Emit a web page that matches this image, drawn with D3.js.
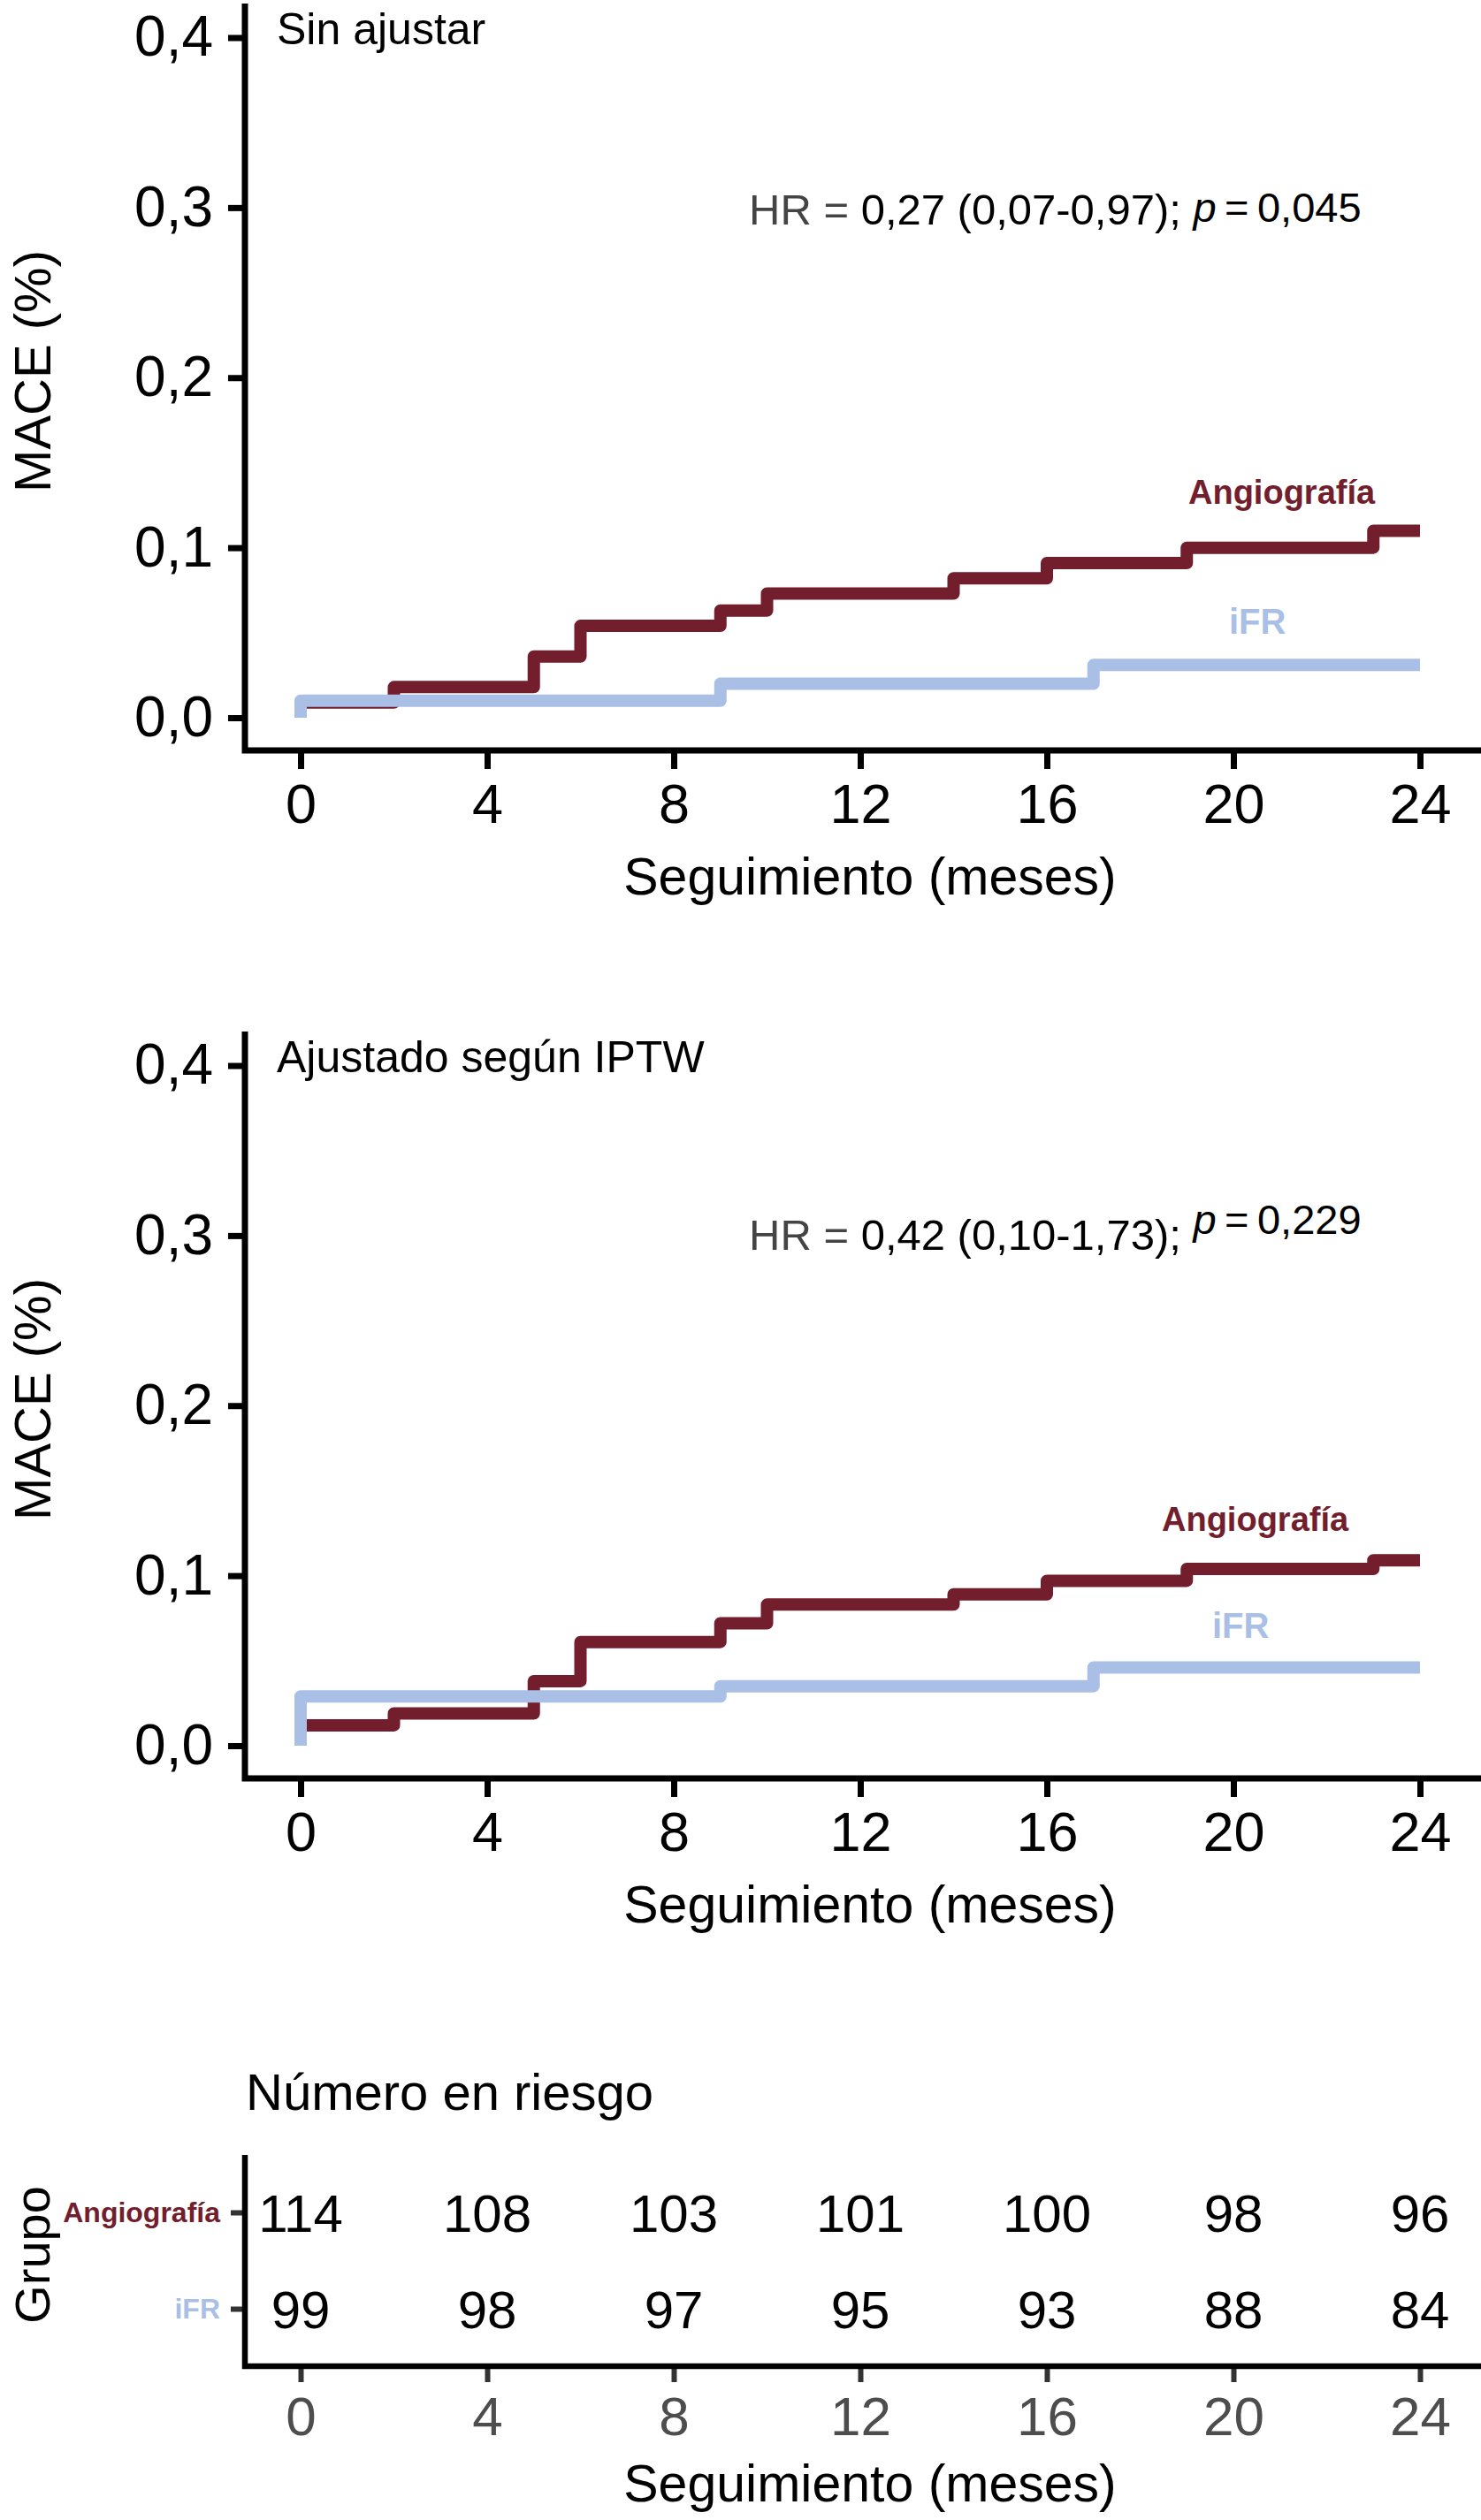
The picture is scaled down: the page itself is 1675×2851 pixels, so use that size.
<!DOCTYPE html>
<html>
<head>
<meta charset="utf-8">
<script src="https://cdn.jsdelivr.net/npm/d3@7"></script>
<style>
    body { margin: 0; background: #fff; }
    text { font-family: "Liberation Sans", Arial, Helvetica, sans-serif; }
</style>
</head>
<body>
<div id="chart"></div>
<script>
// --- data ---
const monthTicks = [0, 4, 8, 12, 16, 20, 24];
const maceTicks = [0, 0.1, 0.2, 0.3, 0.4];
const groups = ['Angiografía', 'iFR'];

// Sin ajustar (cumulative MACE, step times in months)
const rawAngioTimes = [0, 0, 2, 5, 6, 9, 10, 14, 16, 19, 23, 24];
const rawAngioMace = [0, 0.009, 0.018, 0.036, 0.054, 0.063, 0.073, 0.082, 0.091, 0.100, 0.110, 0.110];
const rawIfrTimes = [0, 0, 9, 17, 24];
const rawIfrMace = [0, 0.010, 0.020, 0.031, 0.031];

// Ajustado según IPTW
const iptwAngioTimes = [0, 0, 2, 5, 6, 9, 10, 14, 16, 19, 23, 24];
const iptwAngioMace = [0, 0.012, 0.019, 0.038, 0.061, 0.072, 0.083, 0.089, 0.097, 0.104, 0.109, 0.109];
const iptwIfrTimes = [0, 0, 9, 17, 24];
const iptwIfrMace = [0, 0.029, 0.035, 0.046, 0.046];

const panelTitles = ['Sin ajustar', 'Ajustado según IPTW'];
const hrTexts = ['0,27 (0,07-0,97);', '0,42 (0,10-1,73);'];
const pTexts = ['0,045', '0,229'];

// Número en riesgo
const atRiskAngio = [114, 108, 103, 101, 100, 98, 96];
const atRiskIfr = [99, 98, 97, 95, 93, 88, 84];

// --- drawing ---
const W = 1675, H = 2851;
const red = '#721e2d';
const blue = '#a9bfe6';
const axisX = 277;

const fmt = d => d3.format('.1f')(d).replace('.', ',');

const svg = d3.select('#chart').append('svg')
    .attr('width', W)
    .attr('height', H);

const x = d3.scaleLinear().domain([0, 24]).range([340, 1606]);

function styleAxis(axisG, opts) {
    axisG.select('.domain').remove();
    axisG.selectAll('.tick line')
        .attr('stroke', opts.tickColor)
        .attr('stroke-width', opts.tickWidth);
    axisG.selectAll('.tick text')
        .attr('fill', opts.textColor)
        .style('font-size', opts.fontSize + 'px');
}

function drawPanel(cfg) {
    const g = svg.append('g').attr('transform', 'translate(0,' + cfg.top + ')');
    const y = d3.scaleLinear().domain([0, 0.4]).range([812, 42.5]);
    const xAxisY = 849;

    // y axis
    const yAxisG = g.append('g')
        .attr('transform', 'translate(' + axisX + ',0)')
        .call(d3.axisLeft(y).tickValues(maceTicks).tickFormat(fmt).tickSize(19).tickPadding(17));
    styleAxis(yAxisG, {tickColor: '#000', tickWidth: 7, textColor: '#000', fontSize: 64});

    // x axis
    const xAxisG = g.append('g')
        .attr('transform', 'translate(0,' + xAxisY + ')')
        .call(d3.axisBottom(x).tickValues(monthTicks).tickSize(21).tickPadding(16));
    styleAxis(xAxisG, {tickColor: '#000', tickWidth: 7, textColor: '#000', fontSize: 63});

    g.append('path')
        .attr('d', 'M' + axisX + ',4 V' + xAxisY + ' H' + W)
        .attr('fill', 'none')
        .attr('stroke', '#000')
        .attr('stroke-width', 7);

    // curves
    const line = d3.line()
        .x(d => x(d[0]))
        .y(d => y(d[1]))
        .curve(d3.curveStepAfter);

    g.append('path')
        .datum(d3.zip(cfg.angioTimes, cfg.angioMace))
        .attr('d', line)
        .attr('fill', 'none')
        .attr('stroke', red)
        .attr('stroke-width', 14)
        .attr('stroke-linejoin', 'round');

    g.append('path')
        .datum(d3.zip(cfg.ifrTimes, cfg.ifrMace))
        .attr('d', line)
        .attr('fill', 'none')
        .attr('stroke', blue)
        .attr('stroke-width', 14)
        .attr('stroke-linejoin', 'round');

    // texts
    g.append('text')
        .attr('x', 313)
        .attr('y', 50)
        .style('font-size', '50px')
        .text(cfg.title);

    const hr = g.append('text')
        .attr('x', 847)
        .attr('y', cfg.hrY)
        .style('font-size', '49px');
    hr.append('tspan').attr('fill', '#444').text('HR = ');
    hr.append('tspan').attr('fill', '#000').text(cfg.hr + ' ');
    hr.append('tspan')
        .attr('dy', -cfg.pRaise)
        .style('font-style', 'italic')
        .style('font-size', '47px')
        .text('p');
    hr.append('tspan').style('font-size', '47px').text('\u2009=\u2009');
    hr.append('tspan').style('font-size', '47px').text(cfg.p);

    g.append('text')
        .attr('x', cfg.angioLabel[0])
        .attr('y', cfg.angioLabel[1])
        .attr('fill', red)
        .style('font-size', '38px')
        .style('font-weight', 'bold')
        .text(groups[0]);

    g.append('text')
        .attr('x', cfg.ifrLabel[0])
        .attr('y', cfg.ifrLabel[1])
        .attr('fill', blue)
        .style('font-size', '40px')
        .style('font-weight', 'bold')
        .text(groups[1]);

    // axis titles
    g.append('text')
        .attr('x', 984)
        .attr('y', 1012)
        .attr('text-anchor', 'middle')
        .style('font-size', '59px')
        .text('Seguimiento (meses)');

    g.append('text')
        .attr('transform', 'translate(57,420) rotate(-90)')
        .attr('text-anchor', 'middle')
        .style('font-size', '58px')
        .text('MACE (%)');
}

drawPanel({
    top: 0,
    title: panelTitles[0],
    hr: hrTexts[0], p: pTexts[0], hrY: 254, pRaise: 3,
    angioTimes: rawAngioTimes, angioMace: rawAngioMace,
    ifrTimes: rawIfrTimes, ifrMace: rawIfrMace,
    angioLabel: [1344, 570], ifrLabel: [1390, 717]
});

drawPanel({
    top: 1163,
    title: panelTitles[1],
    hr: hrTexts[1], p: pTexts[1], hrY: 251, pRaise: 18,
    angioTimes: iptwAngioTimes, angioMace: iptwAngioMace,
    ifrTimes: iptwIfrTimes, ifrMace: iptwIfrMace,
    angioLabel: [1314, 569], ifrLabel: [1371, 690]
});

// --- risk table ---
const riskTop = 2438, riskAxisY = 2677;
const yRisk = d3.scalePoint().domain(groups).range([2503, 2612]);
const riskRows = [atRiskAngio, atRiskIfr];
const groupColors = [red, blue];

svg.append('text')
    .attr('x', 278)
    .attr('y', 2387)
    .style('font-size', '58px')
    .text('Número en riesgo');

const riskYAxis = svg.append('g')
    .attr('transform', 'translate(' + axisX + ',0)')
    .call(d3.axisLeft(yRisk).tickSize(16).tickPadding(12));
styleAxis(riskYAxis, {tickColor: '#333', tickWidth: 6, textColor: '#000', fontSize: 32});
riskYAxis.selectAll('.tick text')
    .attr('fill', (d, i) => groupColors[i])
    .style('font-weight', 'bold');

const riskXAxis = svg.append('g')
    .attr('transform', 'translate(0,' + riskAxisY + ')')
    .call(d3.axisBottom(x).tickValues(monthTicks).tickSize(18).tickPadding(16));
styleAxis(riskXAxis, {tickColor: '#333', tickWidth: 6, textColor: '#4d4d4d', fontSize: 62});

svg.append('path')
    .attr('d', 'M' + axisX + ',' + riskTop + ' V' + riskAxisY + ' H' + W)
    .attr('fill', 'none')
    .attr('stroke', '#000')
    .attr('stroke-width', 6.5);

groups.forEach((grp, gi) => {
    svg.append('g')
        .selectAll('text')
        .data(riskRows[gi])
        .join('text')
        .attr('x', (d, i) => x(monthTicks[i]))
        .attr('y', yRisk(grp) + 22)
        .attr('text-anchor', 'middle')
        .style('font-size', '60px')
        .text(d => d);
});

svg.append('text')
    .attr('transform', 'translate(56,2551) rotate(-90)')
    .attr('text-anchor', 'middle')
    .style('font-size', '56px')
    .text('Grupo');

svg.append('text')
    .attr('x', 984)
    .attr('y', 2830)
    .attr('text-anchor', 'middle')
    .style('font-size', '59px')
    .text('Seguimiento (meses)');
</script>
</body>
</html>
